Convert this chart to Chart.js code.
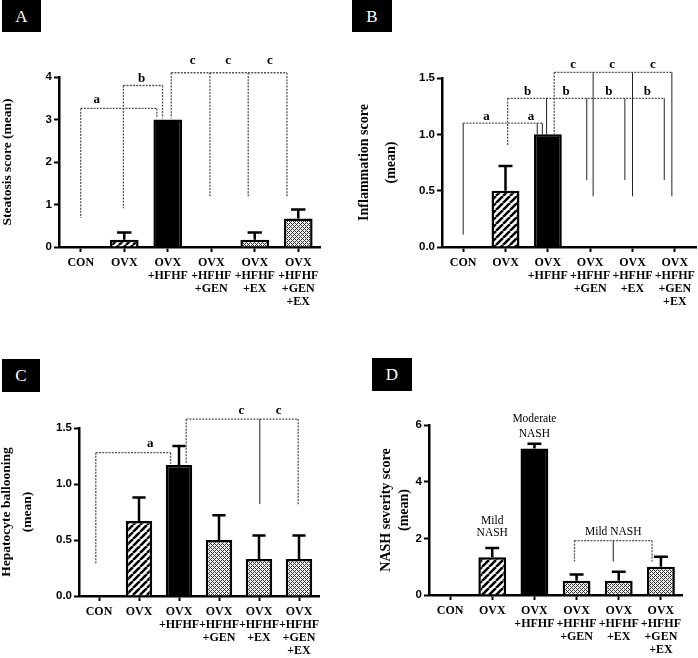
<!DOCTYPE html>
<html>
<head>
<meta charset="utf-8">
<script src="https://cdn.jsdelivr.net/npm/chart.js@4.4.1/dist/chart.umd.min.js"></script>
<style>
  body { margin: 0; background: #fff; }
  #fig { position: relative; width: 698px; height: 658px; overflow: hidden; }
  .panel { position: absolute; width: 349px; height: 329px; }
  .tag {
    position: absolute; background: #000; color: #fff;
    font: 17px "Liberation Serif", "Times New Roman", serif;
    text-align: center;
  }
</style>
</head>
<body>
<div id="fig">
  <div class="panel" style="left:0;top:0"><canvas id="cA" width="349" height="329"></canvas></div>
  <div class="panel" style="left:349px;top:0"><canvas id="cB" width="349" height="329"></canvas></div>
  <div class="panel" style="left:0;top:329px"><canvas id="cC" width="349" height="329"></canvas></div>
  <div class="panel" style="left:349px;top:329px"><canvas id="cD" width="349" height="329"></canvas></div>
  <div class="tag" style="left:2px;top:0;width:39px;height:32px;line-height:33px">A</div>
  <div class="tag" style="left:352px;top:0;width:40px;height:32px;line-height:33px">B</div>
  <div class="tag" style="left:2px;top:359px;width:38px;height:33px;line-height:34px">C</div>
  <div class="tag" style="left:372px;top:358px;width:40px;height:33px;line-height:34px">D</div>
</div>
<script>
// groups on the x axis
const categories = [
  ["CON"],
  ["OVX"],
  ["OVX", "+HFHF"],
  ["OVX", "+HFHF", "+GEN"],
  ["OVX", "+HFHF", "+EX"],
  ["OVX", "+HFHF", "+GEN", "+EX"],
];

// mean and SEM per group
const steatosisMean = [0, 0.17, 3.0, 0, 0.17, 0.67];
const steatosisSem = [0, 0.17, 0, 0, 0.17, 0.21];
const inflammationMean = [0, 0.5, 1.0, 0, 0, 0];
const inflammationSem = [0, 0.22, 0, 0, 0, 0];
const ballooningMean = [0, 0.67, 1.17, 0.5, 0.33, 0.33];
const ballooningSem = [0, 0.21, 0.17, 0.22, 0.21, 0.21];
const nashMean = [0, 1.33, 5.17, 0.5, 0.5, 1.0];
const nashSem = [0, 0.33, 0.17, 0.22, 0.32, 0.35];

// y tick values
const ticksA = [0, 1, 2, 3, 4];
const ticksB = [0, 0.5, 1.0, 1.5];
const ticksC = [0, 0.5, 1.0, 1.5];
const ticksD = [0, 2, 4, 6];

// significance brackets: y of the bar, legs [x index, bottom value, solid?]
const bracketsA = [
  { y: 3.26, legs: [[0, 0.68], [1.75, 3.03]] },
  { y: 3.80, legs: [[0.98, 0.91], [1.88, 3.03]] },
  { y: 4.10, legs: [[2.08, 3.03], [2.97, 1.18], [3.85, 1.18], [4.74, 1.18]] },
];
const marksA = [[0.37, 3.50, "a"], [1.40, 3.99, "b"], [2.57, 4.40, "c"], [3.39, 4.40, "c"], [4.35, 4.40, "c"]];

const bracketsB = [
  { y: 1.10, legs: [[0, 0.11, 1], [1.75, 1.0, 1], [1.87, 1.0, 1]] },
  { y: 1.32, legs: [[1.05, 0.90], [1.97, 1.0, 1], [2.92, 0.595, 1], [3.82, 0.595, 1], [4.75, 0.595, 1]] },
  { y: 1.55, legs: [[2.15, 1.0], [3.07, 0.45, 1], [4.0, 0.45, 1], [4.93, 0.45, 1]] },
];
const marksB = [
  [0.55, 1.17, "a"], [1.60, 1.17, "a"],
  [1.52, 1.39, "b"], [2.43, 1.39, "b"], [3.44, 1.39, "b"], [4.35, 1.39, "b"],
  [2.60, 1.63, "c"], [3.52, 1.63, "c"], [4.48, 1.63, "c"],
];

const bracketsC = [
  { y: 1.28, legs: [[-0.08, 0.29], [1.79, 1.18]] },
  { y: 1.58, legs: [[2.18, 1.18], [4.02, 0.82, 1], [4.98, 0.82]] },
];
const marksC = [[1.28, 1.37, "a"], [3.56, 1.66, "c"], [4.49, 1.66, "c"]];

const bracketsD = [
  { y: 1.92, legs: [[2.95, 1.18], [3.87, 1.18, 1], [4.79, 1.18]] },
];
const notesD = [[1, 2.62, "Mild"], [1, 2.19, "NASH"], [2, 6.21, "Moderate"], [2, 5.68, "NASH"], [3.87, 2.23, "Mild NASH"]];

const SERIF = '"Liberation Serif", "Times New Roman", serif';
const SANS = '"Liberation Sans", Arial, sans-serif';

function makePattern(kind) {
  const c = document.createElement("canvas");
  const g = c.getContext("2d");
  if (kind === "hatch") {
    c.width = c.height = 7;
    g.fillStyle = "#fff";
    g.fillRect(0, 0, 7, 7);
    g.strokeStyle = "#000";
    g.lineWidth = 2.6;
    g.beginPath();
    for (const o of [-7, 0, 7]) { g.moveTo(o, 7); g.lineTo(o + 7, 0); }
    g.stroke();
  } else {
    const rows = ["#...", ".#.#", "..#.", ".#.#"];
    c.width = c.height = 4;
    g.fillStyle = "#f2f2f2";
    g.fillRect(0, 0, 4, 4);
    g.fillStyle = "#333";
    rows.forEach((r, j) => [...r].forEach((ch, i) => { if (ch === "#") g.fillRect(i, j, 1, 1); }));
  }
  return g.createPattern(c, "repeat");
}

const hatch = makePattern("hatch");
const dots = makePattern("dots");
const fills = ["#fff", hatch, "#000", dots, dots, dots];

// upper SEM whiskers
const errorBars = {
  id: "errorBars",
  afterDatasetsDraw(chart, args, opts) {
    const { ctx, scales: { y } } = chart;
    const meta = chart.getDatasetMeta(0);
    const mean = chart.data.datasets[0].data;
    ctx.save();
    ctx.strokeStyle = "#000";
    ctx.lineWidth = 2.5;
    opts.sem.forEach((s, i) => {
      if (!s) return;
      const bar = meta.data[i];
      const top = y.getPixelForValue(mean[i] + s);
      const half = bar.width / 4;
      ctx.beginPath();
      ctx.moveTo(bar.x, bar.y);
      ctx.lineTo(bar.x, top);
      ctx.moveTo(bar.x - half, top);
      ctx.lineTo(bar.x + half, top);
      ctx.stroke();
    });
    ctx.restore();
  },
};

// dotted comparison brackets + letters / notes
const brackets = {
  id: "brackets",
  afterDatasetsDraw(chart, args, opts) {
    const { ctx, scales: { x, y } } = chart;
    const x0 = x.getPixelForValue(0);
    const step = x.getPixelForValue(1) - x0;
    const px = (v) => x0 + v * step;
    ctx.save();
    (opts.list || []).forEach((b) => {
      const yy = y.getPixelForValue(b.y);
      const xs = b.legs.map((l) => px(l[0]));
      ctx.setLineDash([2, 1.2]);
      ctx.strokeStyle = "#555";
      ctx.lineWidth = 1.3;
      ctx.beginPath();
      ctx.moveTo(Math.min(...xs), yy);
      ctx.lineTo(Math.max(...xs), yy);
      ctx.stroke();
      b.legs.forEach((l) => {
        if (l[2]) {
          ctx.setLineDash([]);
          ctx.strokeStyle = "#222";
          ctx.lineWidth = 1;
        } else {
          ctx.setLineDash([2, 1.2]);
          ctx.strokeStyle = "#555";
          ctx.lineWidth = 1.3;
        }
        ctx.beginPath();
        ctx.moveTo(px(l[0]), yy);
        ctx.lineTo(px(l[0]), y.getPixelForValue(l[1]));
        ctx.stroke();
      });
    });
    ctx.setLineDash([]);
    ctx.fillStyle = "#000";
    ctx.textAlign = "center";
    ctx.textBaseline = "middle";
    ctx.font = "bold 13px " + SERIF;
    (opts.marks || []).forEach((m) => ctx.fillText(m[2], px(m[0]), y.getPixelForValue(m[1]) + 1));
    ctx.font = "11.5px " + SERIF;
    (opts.notes || []).forEach((m) => ctx.fillText(m[2], px(m[0]), y.getPixelForValue(m[1])));
    ctx.restore();
  },
};

function makePanel(id, p) {
  new Chart(document.getElementById(id), {
    type: "bar",
    data: {
      labels: categories,
      datasets: [{
        data: p.mean,
        backgroundColor: fills,
        borderColor: "#000",
        borderWidth: 2.5,
        borderSkipped: "start",
        barPercentage: 0.66,
        categoryPercentage: 1,
      }],
    },
    options: {
      responsive: false,
      animation: false,
      events: [],
      layout: { padding: { left: 0, top: p.top, right: p.right, bottom: 0 } },
      plugins: {
        legend: { display: false },
        tooltip: { enabled: false },
        errorBars: { sem: p.sem },
        brackets: { list: p.brackets, marks: p.marks, notes: p.notes },
      },
      scales: {
        x: {
          offset: true,
          grid: { display: true, drawOnChartArea: false, drawTicks: true, tickLength: 5, tickWidth: 2, tickColor: "#000", offset: false },
          border: { display: true, color: "#000", width: 2.5 },
          ticks: {
            color: "#000",
            font: { family: SERIF, weight: "bold", size: 12, lineHeight: 1.1 },
            padding: 4, autoSkip: false, maxRotation: 0, minRotation: 0,
          },
          afterFit(s) { s.height = p.xh; s.paddingLeft = 0; s.paddingRight = 0; },
        },
        y: {
          min: 0,
          max: p.ticks[p.ticks.length - 1],
          afterBuildTicks(s) { s.ticks = p.ticks.map((v) => ({ value: v })); },
          grid: { drawOnChartArea: false, drawTicks: true, tickLength: 5, tickWidth: 2, tickColor: "#000" },
          border: { display: true, color: "#000", width: 2.5 },
          ticks: {
            color: "#000",
            font: { family: SANS, weight: "bold", size: 11.5 },
            padding: 2,
            callback: (v) => v.toFixed(p.dec),
          },
          title: {
            display: true,
            text: p.title,
            color: "#000",
            font: { family: SERIF, weight: "bold", size: p.tsize, lineHeight: p.tlh },
            padding: { top: p.tpad, bottom: 0 },
          },
          afterFit(s) { s.width = p.yw; s.paddingTop = 0; s.paddingBottom = 0; },
        },
      },
    },
    plugins: [errorBars, brackets],
  });
}

makePanel("cA", {
  mean: steatosisMean, sem: steatosisSem, ticks: ticksA, dec: 0,
  title: "Steatosis score (mean)", tsize: 13.5, tlh: "16px", tpad: 0,
  top: 77, right: 29, yw: 59, xh: 82,
  brackets: bracketsA, marks: marksA,
});
makePanel("cB", {
  mean: inflammationMean, sem: inflammationSem, ticks: ticksB, dec: 1,
  title: ["Inflammation score", "(mean)"], tsize: 14, tlh: "27px", tpad: 1.5,
  top: 78, right: 2, yw: 93, xh: 82,
  brackets: bracketsB, marks: marksB,
});
makePanel("cC", {
  mean: ballooningMean, sem: ballooningSem, ticks: ticksC, dec: 1,
  title: ["Hepatocyte ballooning", "(mean)"], tsize: 13.5, tlh: "21px", tpad: -3.5,
  top: 99, right: 30, yw: 79, xh: 62,
  brackets: bracketsC, marks: marksC,
});
makePanel("cD", {
  mean: nashMean, sem: nashSem, ticks: ticksD, dec: 0,
  title: ["NASH severity score", "(mean)"], tsize: 14, tlh: "18px", tpad: 28,
  top: 96, right: 16, yw: 80, xh: 63,
  brackets: bracketsD, notes: notesD,
});
</script>
</body>
</html>
